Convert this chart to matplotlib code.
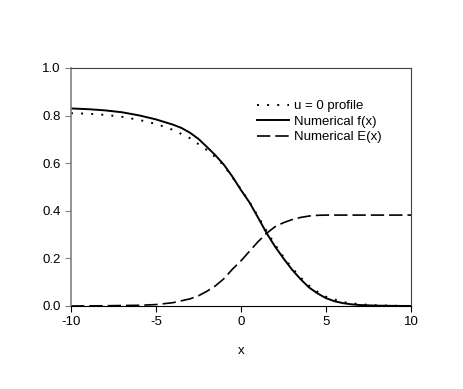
import matplotlib
matplotlib.use("Agg")
import matplotlib.pyplot as plt

plt.rcParams['font.family'] = ['Liberation Sans', 'DejaVu Sans']

# Numerical f(x)
x_f = [-10, -9, -8, -7, -6, -5, -4.5, -4, -3.5, -3, -2.5, -2, -1.5, -1, -0.5, 0, 0.5, 1,
       1.5, 2, 2.5, 3, 3.5, 4, 4.5, 5, 5.5, 6, 6.5, 7, 8, 9, 10]
f_vals = [0.830, 0.827, 0.822, 0.814, 0.801, 0.784, 0.773, 0.762, 0.748, 0.728, 0.702,
          0.668, 0.633, 0.593, 0.543, 0.487, 0.435, 0.372, 0.307, 0.250, 0.200, 0.153,
          0.113, 0.078, 0.053, 0.033, 0.020, 0.012, 0.007, 0.004, 0.0015, 0.0005, 0.0]

# u = 0 profile (dotted)
x_u = [-10, -9, -8, -7, -6, -5, -4, -3, -2, -1.5, -1, -0.5, 0, 0.5, 1, 1.5, 2, 2.5, 3,
       3.5, 4, 4.5, 5, 6, 7, 8, 9, 10]
u_vals = [0.810, 0.808, 0.803, 0.795, 0.782, 0.765, 0.740, 0.705, 0.655, 0.625, 0.590,
          0.540, 0.490, 0.437, 0.377, 0.316, 0.258, 0.206, 0.160, 0.120, 0.086, 0.060,
          0.039, 0.016, 0.007, 0.003, 0.001, 0.0]

# Numerical E(x)
x_E = [-10, -8, -7, -6, -5, -4, -3, -2.5, -2, -1.5, -1, -0.5, 0, 0.5, 1, 1.5, 2, 2.5,
       3, 3.5, 4, 4.5, 5, 6, 8, 10]
E_vals = [0.0, 0.001, 0.002, 0.003, 0.006, 0.014, 0.030, 0.043, 0.062, 0.085, 0.115,
          0.155, 0.190, 0.230, 0.270, 0.305, 0.333, 0.350, 0.363, 0.372, 0.378, 0.381,
          0.382, 0.382, 0.382, 0.382]

x_ticks = [-10, -5, 0, 5, 10]
y_ticks = [0.0, 0.2, 0.4, 0.6, 0.8, 1.0]
y_ticklabels = ["0.0", "0.2", "0.4", "0.6", "0.8", "1.0"]

fig = plt.figure(figsize=(4.63, 3.89), dpi=100)
ax = fig.add_axes([71/463, 83/389, 340/463, 238/389])

ax.plot(x_u, u_vals, color='black', lw=1.4, linestyle=(0, (1, 4.2)), label='u = 0 profile')
ax.plot(x_f, f_vals, color='black', lw=1.4, linestyle='-', label='Numerical f(x)')
ax.plot(x_E, E_vals, color='black', lw=1.2, linestyle=(0, (8, 3)), label='Numerical E(x)')

ax.set_xlim(-10, 10)
ax.set_ylim(0, 1.0)
ax.set_xticks(x_ticks)
ax.set_xticklabels([str(t) for t in x_ticks])
ax.set_yticks(y_ticks)
ax.set_yticklabels(y_ticklabels)
ax.set_xlabel('x', fontsize=9.5, labelpad=12)

ax.tick_params(axis='both', labelsize=9.5, direction='out', length=4, width=0.8)
ax.tick_params(axis='y', color='#808080')
ax.spines['left'].set_color('#808080')
ax.spines['left'].set_linewidth(1.2)
ax.spines['bottom'].set_color('black')
ax.spines['top'].set_color('#404040')
ax.spines['right'].set_color('#404040')
for s in ['top', 'right', 'bottom']:
    ax.spines[s].set_linewidth(0.8)

leg = ax.legend(loc='upper left', bbox_to_anchor=(0.532, 0.888), frameon=False,
                fontsize=9.5, handlelength=2.4, handletextpad=0.4, labelspacing=0.25,
                borderaxespad=0)

fig.savefig('out.png', dpi=100)
